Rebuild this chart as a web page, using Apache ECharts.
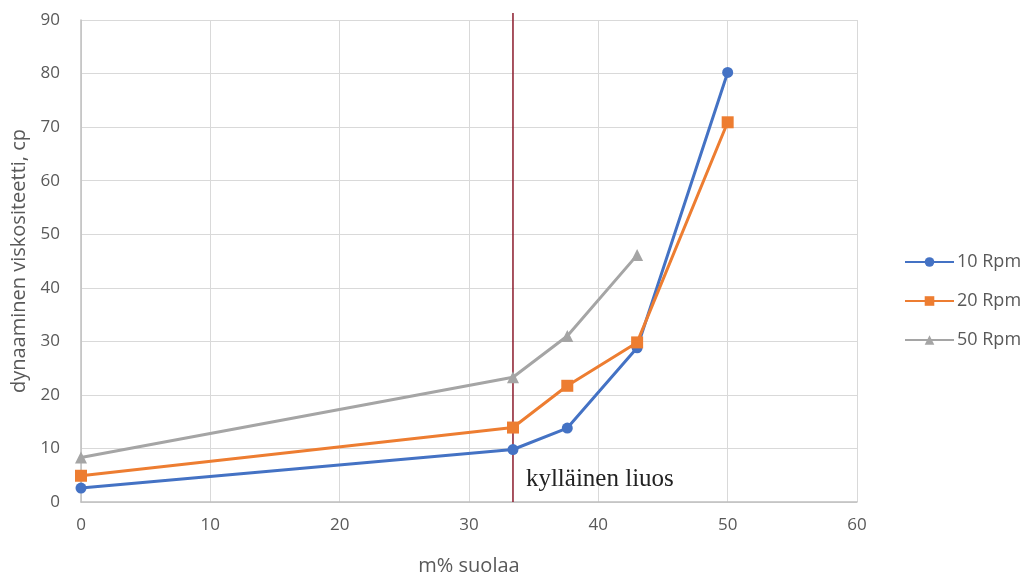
<!DOCTYPE html>
<html><head><meta charset="utf-8">
<script src="https://cdn.jsdelivr.net/npm/echarts@6/dist/echarts.min.js"></script>
<style>html,body{margin:0;padding:0;background:#fff}#c{width:1031px;height:577px}</style>
</head><body><div id="c"></div>
<script>
const xValues = [0, 33.4, 37.6, 43.0, 50];
const rpm10 = [2.6, 9.8, 13.8, 28.8, 80.2];
const rpm20 = [4.9, 13.9, 21.7, 29.8, 70.9];
const rpm50 = [8.3, 23.3, 31.0, 46.1];
const seriesNames = ['10 Rpm', '20 Rpm', '50 Rpm'];
const saturationX = 33.4;
const annotation = 'kylläinen liuos';

const pair = (vals) => vals.map((v, i) => [xValues[i], v]);
const chart = echarts.init(document.getElementById('c'));
const lbl = {color: '#595959', fontSize: 17, fontFamily: 'Open Sans'};
function lineSeries(name, data, color, symbol, size) {
  return {name, type: 'line', data: pair(data), symbol, symbolSize: size,
    lineStyle: {color, width: 3}, itemStyle: {color}, z: 3};
}
chart.setOption({
  animation: false,
  grid: {left: 81, right: 174, top: 20, bottom: 75, containLabel: false, outerBoundsMode: 'none'},
  legend: {
    orient: 'vertical', left: 899, top: 248, itemGap: 21, itemWidth: 49, itemHeight: 12,
    textStyle: {color: '#595959', fontSize: 18, fontFamily: 'Open Sans', padding: [0, 0, 0, -2]},
    data: seriesNames
  },
  xAxis: {
    type: 'value', min: 0, max: 60, interval: 10,
    name: 'm% suolaa', nameLocation: 'middle', nameGap: 54,
    nameTextStyle: {color: '#595959', fontSize: 20, fontFamily: 'Open Sans'},
    axisLine: {show: true, lineStyle: {color: '#BFBFBF', width: 1.5}},
    axisTick: {show: false},
    axisLabel: Object.assign({margin: 15}, lbl),
    splitLine: {show: true, lineStyle: {color: '#D9D9D9'}}
  },
  yAxis: {
    type: 'value', min: 0, max: 90, interval: 10,
    name: 'dynaaminen viskositeetti, cp', nameLocation: 'middle', nameGap: 52,
    nameTextStyle: {color: '#595959', fontSize: 20, fontFamily: 'Open Sans'},
    axisLine: {show: true, lineStyle: {color: '#BFBFBF', width: 1.5}},
    axisTick: {show: false},
    axisLabel: Object.assign({margin: 21}, lbl),
    splitLine: {show: true, lineStyle: {color: '#D9D9D9'}}
  },
  series: [
    {
      name: 'saturation', type: 'line', data: [[saturationX, 0], [saturationX, 91.3]],
      symbol: 'none', clip: false, lineStyle: {color: '#8B1A2B', width: 1.5}, z: 2,
      markPoint: {
        symbol: 'circle', symbolSize: 0,
        data: [{coord: [34.4, 4.3], label: {show: true, position: 'right', distance: 0,
          formatter: annotation, color: '#222', fontSize: 25, fontFamily: 'Liberation Serif'}}]
      }
    },
    lineSeries(seriesNames[0], rpm10, '#4472C4', 'circle', 11),
    lineSeries(seriesNames[1], rpm20, '#ED7D31', 'rect', 12),
    lineSeries(seriesNames[2], rpm50, '#A5A5A5', 'triangle', 12)
  ]
});
</script></body></html>
